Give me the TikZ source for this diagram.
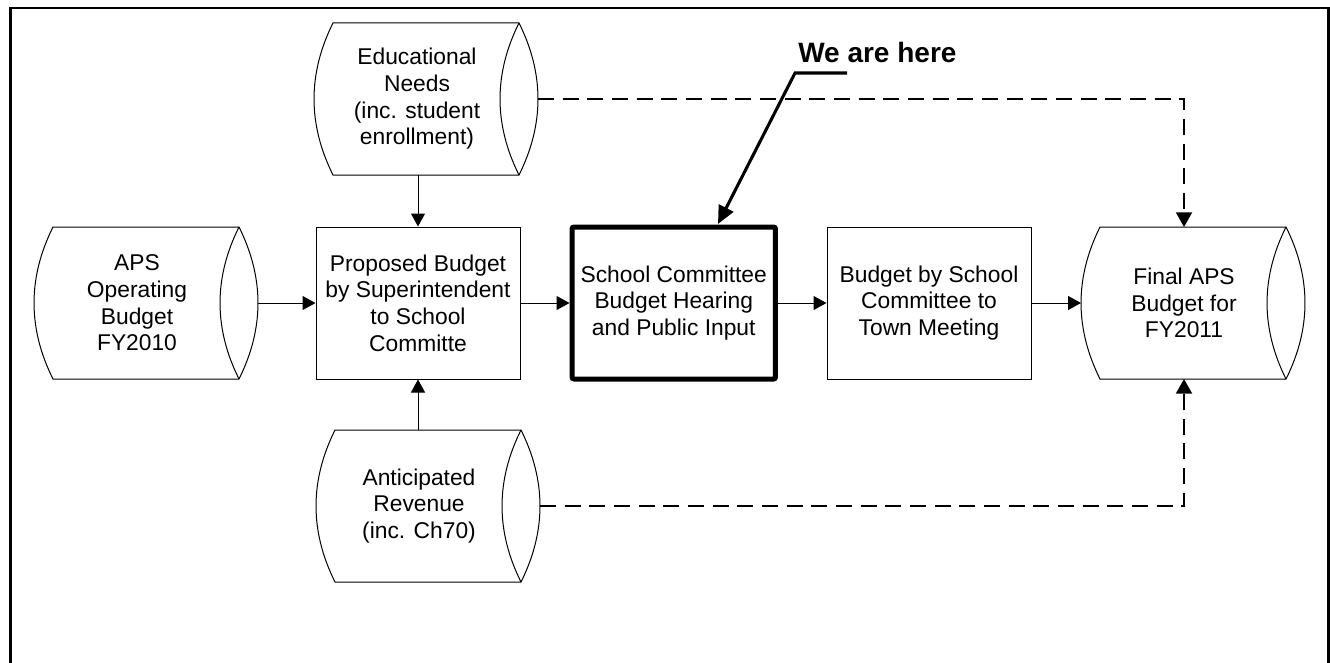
\documentclass[tikz,border=0pt]{standalone}
\usepackage{fontspec}
\setmainfont{Liberation Sans}
\usetikzlibrary{arrows.meta}
\newcommand\dstore[4]{%
  \draw[storeline] (#2,#3) -- ++(186,0)
     .. controls +(25.3,50.7) and +(25.3,-50.7) .. ++(0,152)
     -- ++(-186,0)
     .. controls +(-25.3,-50.7) and +(-25.3,50.7) .. ++(0,-152) -- cycle;
  \draw[storeline] ({#2+186},#3) .. controls +(-25.3,50.7) and +(-25.3,-50.7) .. ++(0,152);
  \node[txt] (#1) at ({#2+84},{#3+76}) {#4};
  \coordinate (#1-r) at ({#2+205},{#3+76});
  \coordinate (#1-l) at ({#2-19},{#3+76});
  \coordinate (#1-t) at ({#2+84},#3);
  \coordinate (#1-b) at ({#2+84},{#3+152});
}
\begin{document}
\begin{tikzpicture}[x=0.75pt,y=-0.75pt,
  txt/.style={font=\fontsize{17.1}{20}\selectfont, align=center, inner sep=0pt},
  storeline/.style={line width=0.75pt},
  procbox/.style={draw, line width=0.75pt, minimum width=153pt, minimum height=114pt,
     font=\fontsize{17.1}{20}\selectfont, align=center, inner sep=0pt},
  hotbox/.style={procbox, line width=3.75pt, rounded corners=1.5pt, minimum width=152.6pt},
  conn/.style={line width=0.75pt, -{Triangle[length=9.75pt,width=10.5pt]}},
  dconn/.style={line width=1.5pt, dash pattern=on 12pt off 6.5pt,
     -{Triangle[length=11pt,width=12pt]}},
  callout/.style={line width=2.3pt, -{Triangle[length=13.5pt,width=12pt]}},
  frameline/.style={line width=2pt}
]
\useasboundingbox (0,0) rectangle (1330,663);
\begin{scope}
  \clip (0,0) rectangle (1330,663);
  \draw[frameline] (10.3,8) rectangle (1328.8,720);
\end{scope}

% data stores
\dstore{aps}{53}{227}{APS\\Operating\\Budget\\FY2010}
\dstore{educ}{333}{23}{Educational\\Needs\\(inc. student\\enrollment)}
\dstore{antic}{335}{430}{Anticipated\\Revenue\\(inc. Ch70)}
\dstore{final}{1100}{227}{Final APS\\Budget for\\FY2011}

% process boxes
\node[procbox] (prop) at (418,303) {Proposed Budget\\by Superintendent\\to School\\Committe};
\node[hotbox] (school) at (673.75,303) {School Committee\\Budget Hearing\\and Public Input};
\node[procbox] (budget) at (929,303) {Budget by School\\Committee to\\Town Meeting};

% connectors
\draw[conn] (aps-r) -- (prop.west);
\draw[conn] (prop.east) -- (school.west);
\draw[conn] (school.east) -- (budget.west);
\draw[conn] (budget.east) -- (final-l);
\draw[conn] (prop.north |- educ-b) -- (prop.north);
\draw[conn] (prop.south |- antic-t) -- (prop.south);
\draw[dconn] (educ-r) -| (final-t);
\draw[dconn] (antic-r) -| (final-b);

% callout
\node[font=\fontsize{21}{25}\selectfont\bfseries, inner sep=0pt, anchor=base west] (here) at (798,63) {We are here};
\coordinate (c1) at (847,73);
\coordinate (c2) at (795,73);
\coordinate (tip) at (718,224);
\draw[callout] (c1) -- (c2) -- (tip);
\end{tikzpicture}
\end{document}
